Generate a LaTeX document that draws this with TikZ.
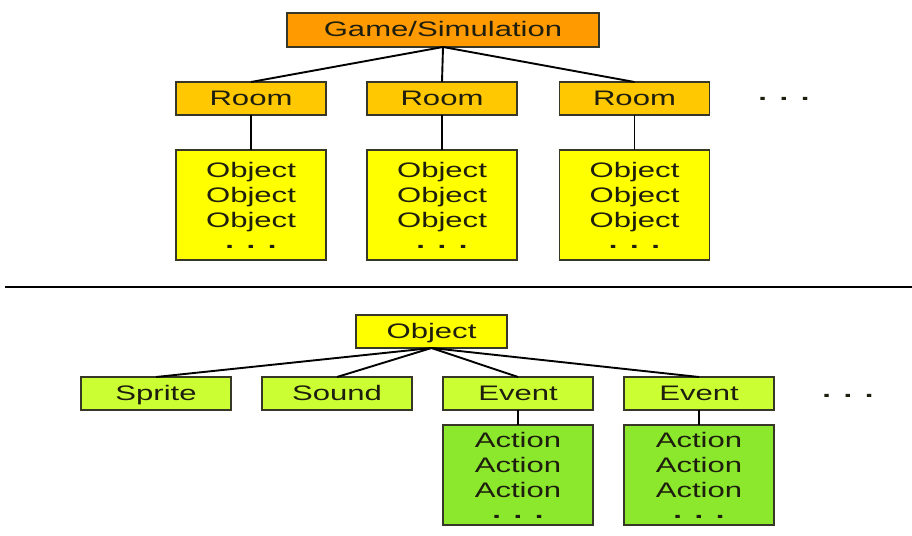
\documentclass[tikz,border=0pt]{standalone}
\usepackage{fontspec}
\setmainfont[FakeStretch=1.48]{Liberation Sans}
\definecolor{gameorange}{RGB}{255,155,0}
\definecolor{roomorange}{RGB}{255,200,0}
\definecolor{objyellow}{RGB}{255,255,0}
\definecolor{limegreen}{RGB}{204,255,51}
\definecolor{actgreen}{RGB}{140,232,45}
\definecolor{boxborder}{RGB}{55,55,40}
\definecolor{textcol}{RGB}{30,30,15}
\newcommand\tridots{{\bfseries .\hspace{0.6em}.\hspace{0.6em}.}}
\begin{document}
\begin{tikzpicture}[x=1pt,y=-1pt,
  box/.style={draw=boxborder, line width=1.1pt, inner sep=0pt, outer sep=0pt,
    minimum width=150pt, minimum height=33pt,
    font=\fontsize{21}{25}\selectfont, text=textcol, align=center},
  onebox/.style={box, text height=15pt, text depth=1pt},
  tall/.style={box, minimum height=#1},
  link/.style={draw=black, line width=1.9pt},
  dotsnode/.style={font=\fontsize{21}{25}\selectfont, text=textcol, inner sep=0pt}]
\useasboundingbox[fill=white] (0,0) rectangle (912,535);

% top tree
\node[onebox, fill=gameorange, minimum width=312pt, minimum height=34pt] (game) at (443,30) {Game/Simulation};
\node[onebox, fill=roomorange] (r1) at (251,98.5) {Room};
\node[onebox, fill=roomorange] (r2) at (442,98.5) {Room};
\node[onebox, fill=roomorange] (r3) at (634.5,98.5) {Room};
\node[dotsnode] (rdots) at (784,99) {\tridots};
\node[tall=110pt, fill=objyellow] (o1) at (251,205) {Object\\Object\\Object\\[-4pt]\tridots};
\node[tall=110pt, fill=objyellow] (o2) at (442,205) {Object\\Object\\Object\\[-4pt]\tridots};
\node[tall=110pt, fill=objyellow] (o3) at (634.5,205) {Object\\Object\\Object\\[-4pt]\tridots};

\draw[link] (game.south) -- (r1.north);
\draw[link] (game.south) -- (r2.north);
\draw[link] (game.south) -- (r3.north);
\draw[link] (r1.south) -- (o1.north);
\draw[link] (r2.south) -- (o2.north);
\draw[link] (r3.south) -- (o3.north);

% separator
\coordinate (sepl) at (5,287);
\coordinate (sepr) at (912,287);
\draw[line width=2pt] (sepl) -- (sepr);

% bottom tree
\node[onebox, fill=objyellow, minimum width=151pt] (obj) at (431.5,331.5) {Object};
\node[onebox, fill=limegreen] (sprite) at (156,393.5) {Sprite};
\node[onebox, fill=limegreen] (sound) at (337,393.5) {Sound};
\node[onebox, fill=limegreen] (ev1) at (518,393.5) {Event};
\node[onebox, fill=limegreen] (ev2) at (699,393.5) {Event};
\node[dotsnode] (edots) at (848,396) {\tridots};
\node[tall=100pt, fill=actgreen] (a1) at (518,475) {Action\\Action\\Action\\[-4pt]\tridots};
\node[tall=100pt, fill=actgreen] (a2) at (699,475) {Action\\Action\\Action\\[-4pt]\tridots};

\draw[link] (obj.south) -- (sprite.north);
\draw[link] (obj.south) -- (sound.north);
\draw[link] (obj.south) -- (ev1.north);
\draw[link] (obj.south) -- (ev2.north);
\draw[link] (ev1.south) -- (a1.north);
\draw[link] (ev2.south) -- (a2.north);
\end{tikzpicture}
\end{document}
